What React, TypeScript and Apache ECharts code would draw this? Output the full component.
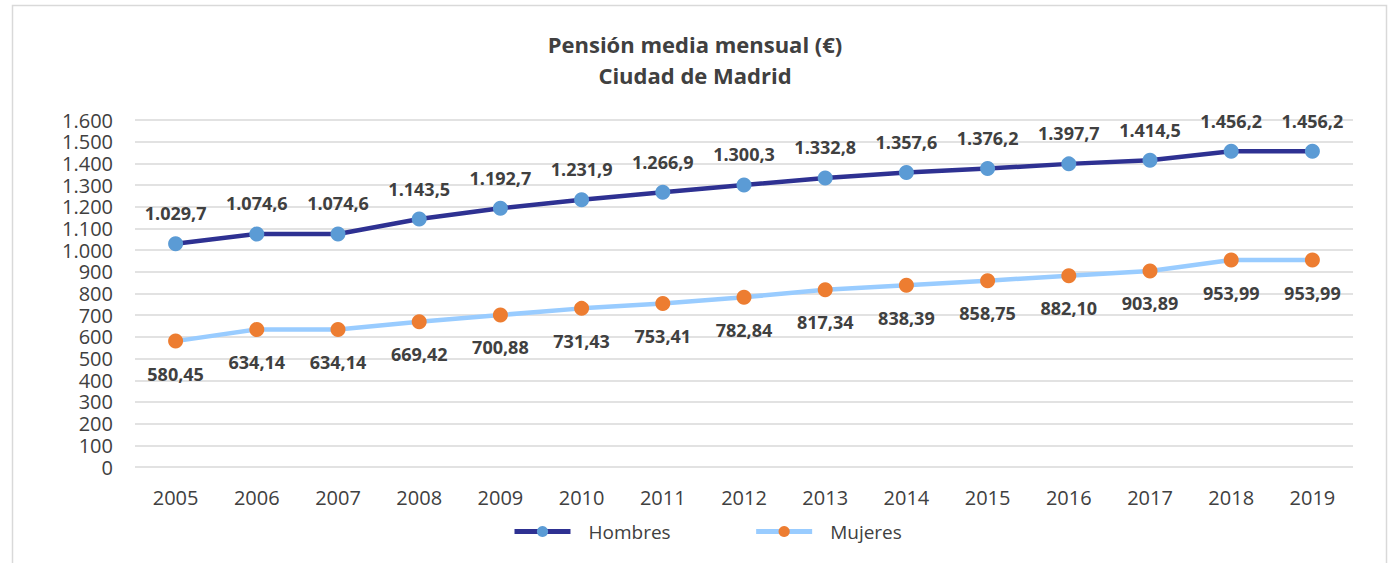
import React, { useEffect, useRef } from "react";
import * as echarts from "echarts";

const years = ["2005","2006","2007","2008","2009","2010","2011","2012","2013","2014","2015","2016","2017","2018","2019"];
const hombres = [1029.7,1074.6,1074.6,1143.5,1192.7,1231.9,1266.9,1300.3,1332.8,1357.6,1376.2,1397.7,1414.5,1456.2,1456.2];
const mujeres = [580.45,634.14,634.14,669.42,700.88,731.43,753.41,782.84,817.34,838.39,858.75,882.10,903.89,953.99,953.99];
const titleLines = ["Pensión media mensual (€)", "Ciudad de Madrid"];

const FONT = "'Open Sans', 'Noto Sans', sans-serif";

function fmt(v: number, dec: number): string {
  const s = v.toFixed(dec);
  const [i, d] = s.split(".");
  const ii = i.replace(/\B(?=(\d{3})+(?!\d))/g, ".");
  return d ? ii + "," + d : ii;
}

export default function App() {
  const ref = useRef<HTMLDivElement>(null);
  useEffect(() => {
    const chart = echarts.init(ref.current!, null, { renderer: "svg" });
    chart.setOption({
      animation: false,
      textStyle: { fontFamily: FONT },
      title: {
        text: titleLines.join("\n"),
        left: "center",
        top: 23,
        textStyle: { fontFamily: FONT, fontSize: 22, fontWeight: "bold", color: "#404040", lineHeight: 31 },
      },
      graphic: [
        { type: "rect", shape: { x: 12.5, y: 5.5, width: 1374, height: 600 }, style: { fill: "none", stroke: "#d9d9d9", lineWidth: 1.5 }, silent: true },
      ],
      legend: {
        bottom: 17,
        left: 507,
        itemWidth: 56,
        itemHeight: 14,
        itemGap: 83,
        lineStyle: { width: 5 },
        textStyle: { fontFamily: FONT, fontSize: 19, color: "#404040", padding: [0, 0, 0, 13] },
        data: ["Hombres", "Mujeres"],
      },
      grid: { left: 135, right: 37, top: 120, bottom: 96, containLabel: false },
      xAxis: {
        type: "category",
        data: years,
        boundaryGap: true,
        axisLine: { show: false },
        axisTick: { show: false },
        axisLabel: { fontFamily: FONT, fontSize: 20, color: "#404040", margin: 20 },
      },
      yAxis: {
        type: "value",
        min: 0,
        max: 1600,
        interval: 100,
        axisLine: { show: false },
        axisTick: { show: false },
        splitLine: { lineStyle: { color: "#d9d9d9", width: 1.5 } },
        axisLabel: {
          fontFamily: FONT, fontSize: 20, lineHeight: 20, color: "#404040", margin: 22,
          formatter: (v: number) => fmt(v, 0),
        },
      },
      series: [
        {
          name: "Hombres",
          type: "line",
          data: hombres,
          symbol: "circle",
          symbolSize: 15,
          lineStyle: { color: "#2e3192", width: 4.5 },
          itemStyle: { color: "#5b9bd5", borderWidth: 0 },
          label: {
            show: true, position: "top", distance: 14,
            fontFamily: FONT, fontSize: 18, fontWeight: "bold", color: "#404040",
            formatter: (p: any) => fmt(p.value, 1),
          },
          z: 3,
        },
        {
          name: "Mujeres",
          type: "line",
          data: mujeres,
          symbol: "circle",
          symbolSize: 15,
          lineStyle: { color: "#99ccff", width: 4.5 },
          itemStyle: { color: "#ed7d31", borderWidth: 0 },
          label: {
            show: true, position: "bottom", distance: 16,
            fontFamily: FONT, fontSize: 18, fontWeight: "bold", color: "#404040",
            formatter: (p: any) => fmt(p.value, 2),
          },
          z: 2,
        },
      ],
    });
    return () => chart.dispose();
  }, []);
  return (
    <div style={{ position: "absolute", left: 0, top: 0, width: 1390, height: 563, background: "#fff" }}>
      <div ref={ref} style={{ width: 1390, height: 563 }} />
    </div>
  );
}
